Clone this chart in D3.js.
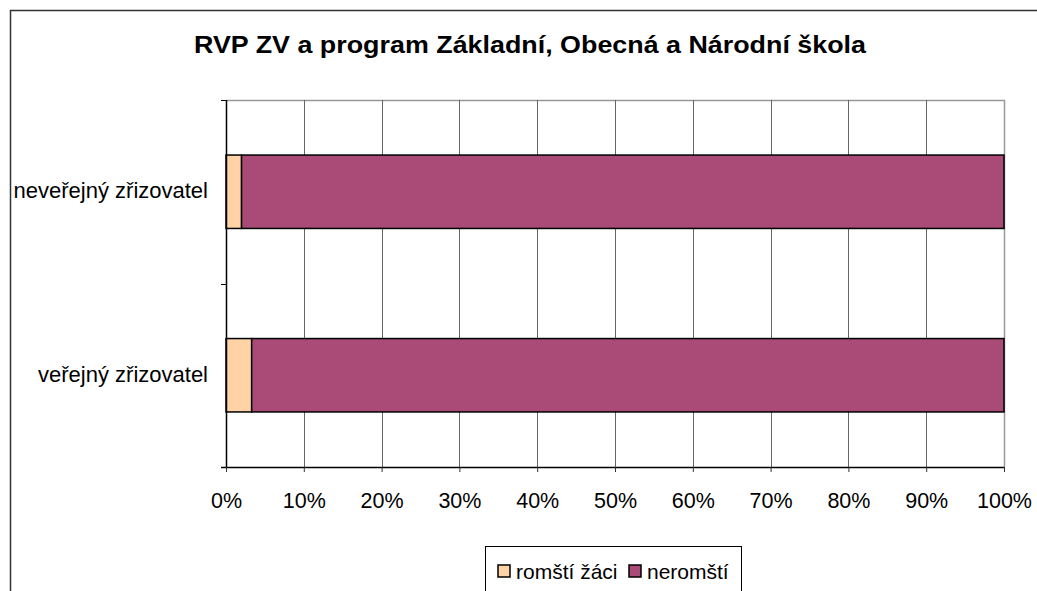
<!DOCTYPE html>
<html>
<head>
<meta charset="utf-8">
<script src="https://cdn.jsdelivr.net/npm/d3@7"></script>
<style>
  body { margin: 0; background: #fff; }
  text { font-family: "Liberation Sans", Arial, sans-serif; }
</style>
</head>
<body>
<div id="chart"></div>
<script>
const categories = ["neveřejný zřizovatel", "veřejný zřizovatel"];
const seriesNames = ["romští žáci", "neromští"];
const romaShare = [2.0, 3.3];
const nonRomaShare = [98.0, 96.7];
const tickValues = [0, 10, 20, 30, 40, 50, 60, 70, 80, 90, 100];
const colors = ["#ffd3a5", "#a94a77"];

const width = 1037, height = 591;
const plot = { left: 226, right: 1004, top: 100, bottom: 467 };

const svg = d3.select("#chart").append("svg")
  .attr("width", width)
  .attr("height", height);

// outer frame (left/top visible, rest cut off)
svg.append("path")
  .attr("d", `M10.5,${height} V10.5 H${width}`)
  .attr("fill", "none")
  .attr("stroke", "#333")
  .attr("stroke-width", 1.5);

// title - a bit wider than the plain font, like the original
let title = svg.append("text")
  .attr("text-anchor", "middle")
  .style("font-size", "23px")
  .style("font-weight", "bold")
  .text("RVP ZV a program Základní, Obecná a Národní škola");
let titleW = title.node().getComputedTextLength();
title.attr("transform", `translate(530,53) scale(${672 / titleW},1)`);

let x = d3.scaleLinear().domain([0, 100]).range([plot.left, plot.right]);
let y = d3.scaleBand().domain(categories).range([plot.top, plot.bottom]).paddingInner(0.6).paddingOuter(0.3);

// plot border top/right
svg.append("path")
  .attr("d", `M${plot.left},${plot.top + 0.5} H${plot.right + 0.5} V${plot.bottom}`)
  .attr("fill", "none")
  .attr("stroke", "#999")
  .attr("stroke-width", 1.5);

// vertical gridlines
svg.selectAll("line.grid")
  .data(tickValues.slice(1, -1))
  .enter()
  .append("line")
  .attr("class", "grid")
  .attr("x1", d => Math.round(x(d)) + 0.5)
  .attr("x2", d => Math.round(x(d)) + 0.5)
  .attr("y1", plot.top)
  .attr("y2", plot.bottom)
  .attr("stroke", "#666")
  .attr("stroke-width", 1);

// stacked bars
let stacks = categories.map((c, i) => [
  { cat: c, x0: 0, x1: romaShare[i], color: colors[0] },
  { cat: c, x0: romaShare[i], x1: romaShare[i] + nonRomaShare[i], color: colors[1] }
]).flat();

svg.selectAll("rect.bar")
  .data(stacks)
  .enter()
  .append("rect")
  .attr("class", "bar")
  .attr("x", d => x(d.x0))
  .attr("y", d => y(d.cat))
  .attr("width", d => x(d.x1) - x(d.x0))
  .attr("height", y.bandwidth())
  .attr("fill", d => d.color)
  .attr("stroke", "#000")
  .attr("stroke-width", 1.5);

// x axis
let xAxis = d3.axisBottom(x)
  .tickValues(tickValues)
  .tickSize(5)
  .tickFormat(d => d + "%");
let gx = svg.append("g")
  .attr("transform", `translate(0,${plot.bottom})`)
  .call(xAxis);
gx.select(".domain").attr("stroke", "#000").attr("stroke-width", 1.5)
  .attr("d", `M${plot.left - 5},0.5H${plot.right}`);
gx.selectAll(".tick line").attr("stroke", "#333");
gx.selectAll(".tick text")
  .attr("dy", null)
  .attr("y", 41)
  .style("font-size", "21.5px")
  .attr("fill", "#000")
  .style("font-family", "'Liberation Sans', Arial, sans-serif");

// y axis line and ticks between categories
svg.append("line")
  .attr("x1", plot.left + 0.5).attr("x2", plot.left + 0.5)
  .attr("y1", plot.top).attr("y2", plot.bottom)
  .attr("stroke", "#000").attr("stroke-width", 1.5);
let yTicks = [plot.top, (plot.top + plot.bottom) / 2, plot.bottom];
svg.selectAll("line.ytick")
  .data(yTicks)
  .enter()
  .append("line")
  .attr("class", "ytick")
  .attr("x1", plot.left - 5).attr("x2", plot.left)
  .attr("y1", d => Math.round(d) + 0.5).attr("y2", d => Math.round(d) + 0.5)
  .attr("stroke", "#000");

svg.selectAll("text.cat")
  .data(categories)
  .enter()
  .append("text")
  .attr("class", "cat")
  .attr("x", 208)
  .attr("y", d => y(d) + y.bandwidth() / 2)
  .attr("dy", "0.3em")
  .attr("text-anchor", "end")
  .style("font-size", "22px")
  .text(d => d);

// legend
let legend = svg.append("g");
legend.append("rect")
  .attr("x", 485.5).attr("y", 546.5)
  .attr("width", 256).attr("height", 48)
  .attr("fill", "#fff").attr("stroke", "#000");
let legendX = [498, 629];
seriesNames.forEach((name, i) => {
  legend.append("rect")
    .attr("x", legendX[i]).attr("y", 565)
    .attr("width", 12).attr("height", 12)
    .attr("fill", colors[i]).attr("stroke", "#000").attr("stroke-width", 1.5);
  legend.append("text")
    .attr("x", legendX[i] + 18).attr("y", 579)
    .style("font-size", "21px")
    .text(name);
});
</script>
</body>
</html>
